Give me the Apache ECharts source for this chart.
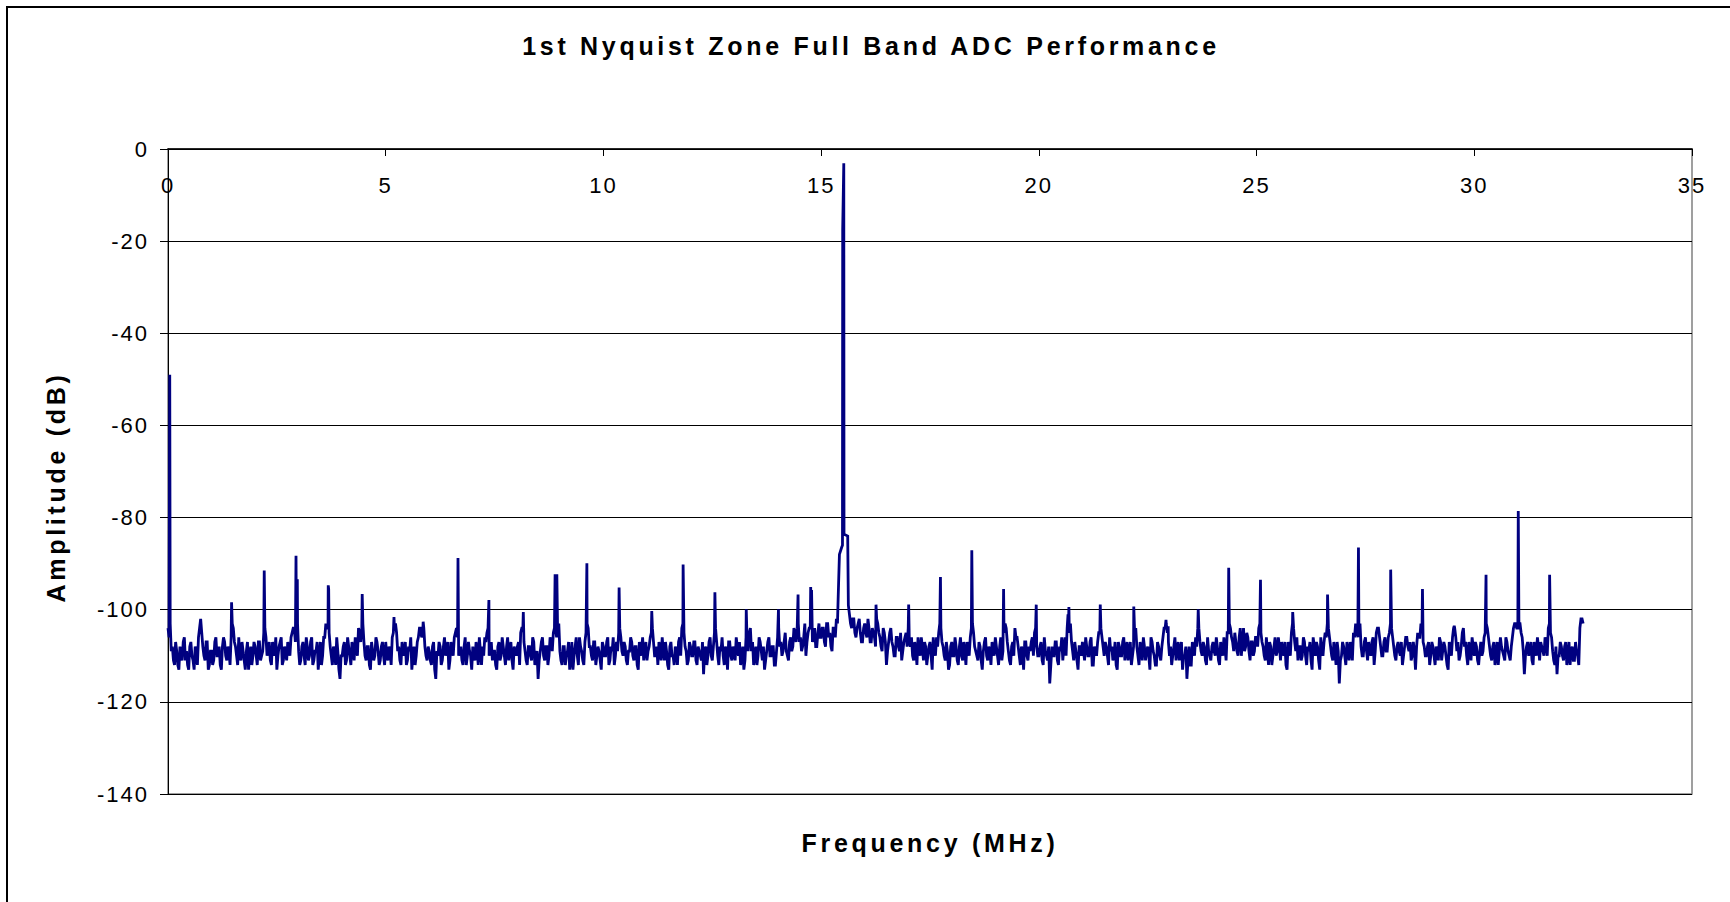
<!DOCTYPE html>
<html>
<head>
<meta charset="utf-8">
<title>1st Nyquist Zone Full Band ADC Performance</title>
<script src="https://cdn.jsdelivr.net/npm/echarts@6/dist/echarts.min.js"></script>
<style>
  html, body { margin: 0; padding: 0; background: #fff; }
  #chart { width: 1730px; height: 902px; }
  /* Excel-style spaced lettering */
  #chart svg text { letter-spacing: 2px; }
  #chart svg text[style*="bold"] { letter-spacing: 3.7px; }
</style>
</head>
<body>
<div id="chart"></div>
<script>
// noise floor, one row per MHz, bins every 0.05 MHz (null = covered by the carrier)
const binStep = 0.05;
const noiseRows = [
  [-104, -103, -108, -112, -109, -113, -110, -107, -111, -112, -108, -110, -113, -109, -106, -102, -108, -111, -107, -112],
  [-109, -111, -106, -110, -112, -108, -107, -111, -109, -106, -104, -108, -112, -110, -107, -111, -109, -113, -108, -110],
  [-108, -112, -107, -110, -105, -106, -109, -111, -107, -110, -113, -108, -106, -111, -109, -107, -110, -105, -104, -106],
  [-109, -111, -107, -112, -108, -110, -106, -111, -109, -113, -107, -110, -106, -104, -105, -110, -108, -112, -109, -115],
  [-110, -107, -111, -108, -112, -109, -106, -110, -105, -104, -107, -111, -108, -113, -109, -110, -107, -112, -108, -110],
  [-107, -111, -109, -106, -104, -105, -108, -112, -110, -107, -111, -109, -113, -108, -110, -106, -104, -105, -108, -111],
  [-109, -112, -107, -115, -110, -108, -111, -106, -109, -113, -107, -110, -105, -106, -109, -111, -108, -112, -107, -110],
  [-108, -111, -109, -106, -112, -110, -107, -104, -108, -111, -109, -113, -107, -110, -108, -112, -106, -109, -111, -108],
  [-110, -107, -105, -104, -109, -112, -108, -111, -107, -110, -115, -109, -106, -111, -108, -110, -107, -105, -104, -106],
  [-109, -112, -108, -110, -107, -111, -113, -108, -110, -106, -109, -112, -105, -104, -108, -111, -107, -110, -109, -113],
  [-108, -110, -106, -111, -109, -112, -107, -105, -106, -110, -108, -112, -109, -107, -111, -108, -113, -110, -106, -109],
  [-111, -108, -105, -107, -110, -112, -108, -106, -111, -109, -113, -107, -110, -108, -112, -106, -104, -105, -109, -111],
  [-108, -110, -107, -112, -109, -111, -114, -108, -110, -106, -111, -105, -107, -112, -109, -110, -108, -113, -107, -111],
  [-109, -106, -110, -112, -108, -111, -107, -105, -109, -112, -108, -110, -107, -111, -113, -109, -106, -110, -108, -112],
  [-106, -108, -110, -107, -109, -111, -106, -108, -105, -104, -107, -109, -106, -110, -105, -104, -107, -104, -108, -103],
  [-106, -104, -108, -103, -105, -109, -104, -102, null, null, null, null, null, -101, -104, -102, -106, -103, -105, -107],
  [-103, -106, -104, -107, -105, -108, -103, -106, -109, -105, -112, -107, -104, -108, -110, -106, -109, -111, -107, -105],
  [-104, -108, -110, -107, -112, -109, -106, -111, -108, -110, -107, -113, -109, -106, -105, -104, -108, -111, -109, -112],
  [-107, -110, -108, -112, -106, -111, -109, -107, -110, -104, -105, -109, -111, -108, -113, -107, -110, -108, -112, -109],
  [-106, -110, -108, -111, -105, -104, -109, -112, -107, -104, -106, -110, -108, -113, -107, -111, -109, -106, -105, -108],
  [-110, -107, -112, -109, -111, -116, -108, -110, -107, -112, -109, -111, -106, -104, -105, -107, -111, -109, -113, -108],
  [-107, -111, -108, -110, -106, -112, -109, -107, -105, -106, -110, -108, -112, -109, -111, -107, -113, -108, -110, -106],
  [-109, -111, -107, -110, -105, -108, -112, -109, -106, -111, -108, -113, -107, -110, -112, -108, -111, -106, -104, -105],
  [-110, -112, -108, -111, -107, -109, -113, -110, -115, -108, -112, -109, -106, -104, -107, -110, -108, -112, -109, -111],
  [-107, -110, -108, -112, -109, -106, -111, -105, -104, -107, -105, -109, -106, -110, -104, -108, -106, -111, -107, -109],
  [-106, -104, -105, -108, -111, -109, -107, -112, -108, -110, -106, -111, -109, -107, -113, -108, -105, -104, -109, -111],
  [-108, -110, -107, -112, -109, -111, -106, -110, -108, -113, -109, -107, -106, -104, -108, -111, -109, -107, -116, -110],
  [-108, -112, -109, -107, -111, -106, -104, -105, -108, -110, -106, -111, -109, -107, -112, -105, -104, -108, -110, -106],
  [-109, -105, -104, -108, -111, -107, -110, -112, -108, -106, -109, -111, -107, -113, -105, -106, -104, -108, -110, -107],
  [-110, -108, -112, -109, -106, -111, -107, -110, -113, -108, -106, -104, -109, -111, -108, -104, -107, -112, -109, -106],
  [-110, -108, -112, -107, -109, -105, -104, -108, -111, -107, -110, -112, -106, -109, -111, -107, -110, -108, -104, -103],
  [-104, -103, -106, -114, -108, -110, -107, -112, -109, -106, -111, -108, -110, -107, -104, -105, -109, -112, -114, -110],
  [-108, -111, -107, -110, -112, -108, -111, -109, -112, -102, -103]
];

// the in-between bins, offset by half a bin (r + 0.025 + j * 0.05)
const noiseRowsMid = [
  [-106, -109, -111, -107, -112, -108, -111, -106, -109, -113, -107, -111, -108, -112, -104, -105, -110, -107, -113, -109],
  [-112, -107, -110, -108, -113, -106, -110, -108, -112, -103, -107, -110, -106, -111, -109, -113, -107, -110, -112, -107],
  [-110, -107, -111, -109, -104, -110, -107, -112, -109, -106, -110, -107, -112, -108, -111, -109, -106, -104, -107, -103],
  [-112, -108, -110, -106, -111, -107, -112, -109, -107, -110, -112, -106, -103, -104, -108, -112, -109, -106, -113, -110],
  [-108, -112, -106, -110, -107, -111, -108, -104, -107, -103, -110, -108, -112, -107, -111, -106, -109, -111, -107, -112],
  [-110, -108, -112, -105, -103, -109, -111, -107, -109, -112, -108, -106, -110, -112, -107, -104, -106, -104, -110, -108],
  [-111, -108, -113, -109, -107, -112, -108, -110, -107, -111, -109, -106, -104, -110, -108, -112, -106, -110, -109, -113],
  [-110, -107, -112, -109, -108, -106, -105, -110, -107, -109, -112, -108, -111, -106, -110, -108, -111, -107, -113, -109],
  [-108, -112, -104, -107, -111, -108, -110, -106, -112, -109, -111, -107, -110, -108, -112, -106, -109, -104, -106, -103],
  [-111, -108, -112, -109, -113, -107, -110, -106, -112, -108, -111, -107, -103, -108, -110, -107, -112, -108, -111, -107],
  [-110, -107, -112, -108, -106, -110, -109, -104, -109, -107, -111, -109, -106, -110, -108, -112, -107, -109, -111, -107],
  [-109, -106, -104, -110, -108, -107, -111, -109, -107, -112, -108, -110, -112, -109, -107, -110, -103, -108, -112, -107],
  [-110, -107, -111, -108, -110, -107, -109, -112, -107, -110, -108, -104, -110, -108, -106, -112, -109, -107, -110, -108],
  [-111, -108, -107, -110, -113, -106, -109, -104, -107, -110, -112, -106, -109, -108, -111, -107, -110, -108, -112, -109],
  [-104, -107, -109, -105, -110, -107, -109, -104, -107, -103, -106, -108, -103, -107, -104, -103, -106, -108, -105, -106],
  [-104, -107, -103, -106, -108, -104, -106, -103, null, null, null, null, null, -103, -102, -105, -104, -102, -107, -104],
  [-105, -102, -107, -104, -106, -102, -105, -108, -104, -107, -109, -105, -107, -110, -106, -108, -105, -109, -106, -108],
  [-107, -106, -111, -109, -106, -110, -108, -107, -112, -108, -110, -106, -110, -108, -103, -107, -110, -107, -113, -108],
  [-110, -106, -111, -108, -110, -107, -112, -108, -106, -103, -108, -110, -107, -111, -109, -106, -111, -109, -107, -110],
  [-108, -112, -106, -109, -103, -107, -111, -108, -110, -106, -108, -112, -109, -107, -110, -108, -107, -110, -104, -110],
  [-108, -111, -106, -110, -108, -112, -110, -107, -111, -108, -106, -108, -110, -105, -103, -109, -107, -111, -108, -110],
  [-109, -106, -110, -107, -112, -108, -110, -105, -104, -108, -107, -110, -106, -108, -110, -112, -107, -110, -107, -111],
  [-107, -109, -112, -108, -104, -110, -107, -111, -108, -109, -110, -106, -109, -112, -107, -110, -108, -104, -103, -107],
  [-108, -110, -106, -109, -111, -107, -110, -108, -111, -112, -107, -110, -108, -104, -109, -107, -111, -106, -110, -108],
  [-109, -106, -111, -107, -110, -108, -105, -103, -106, -109, -107, -110, -104, -107, -109, -105, -109, -107, -110, -106],
  [-108, -103, -107, -110, -106, -112, -108, -110, -106, -109, -108, -107, -110, -112, -107, -110, -103, -107, -106, -108],
  [-111, -106, -110, -108, -107, -113, -108, -107, -111, -106, -110, -105, -103, -106, -110, -107, -112, -109, -111, -107],
  [-110, -107, -111, -109, -105, -103, -106, -103, -110, -107, -109, -107, -110, -106, -109, -104, -106, -110, -107, -109],
  [-106, -103, -106, -110, -108, -109, -107, -110, -106, -108, -107, -110, -109, -108, -106, -103, -107, -110, -108, -112],
  [-107, -110, -108, -111, -107, -109, -108, -112, -107, -110, -104, -106, -107, -110, -105, -108, -110, -107, -111, -108],
  [-107, -111, -109, -110, -106, -103, -106, -110, -108, -112, -107, -109, -108, -110, -106, -109, -111, -106, -103, -104],
  [-103, -105, -109, -110, -107, -109, -111, -107, -110, -108, -107, -109, -106, -110, -103, -106, -111, -108, -110, -107],
  [-110, -108, -112, -107, -109, -111, -107, -110, -104, -102]
];

// spurs (MHz, dB)
const spurFreq = [0.04, 1.46, 2.21, 2.94, 2.97, 3.68, 3.69, 4.46, 5.19, 5.86, 6.66, 7.37, 8.16, 8.89, 8.93,
  9.62, 10.36, 11.11, 11.83, 12.56, 13.28, 14.02, 14.47, 14.76, 14.78, 16.26, 17.01, 17.74, 18.46, 19.19,
  19.94, 20.67, 20.69, 21.41, 22.18, 22.92, 22.97, 23.66, 24.36, 25.09, 25.83, 26.63, 27.34, 28.08, 28.81,
  29.54, 30.27, 31.01, 31.73];
const spurAmp = [-49, -98.4, -91.5, -88.3, -93.4, -94.7, -95.5, -96.6, -101.6, -102.6, -88.8, -97.9, -100.5, -92.3, -92.3,
  -89.9, -95.2, -100.3, -90.2, -96.2, -99.9, -99.9, -96.7, -95.1, -95.7, -98.9, -98.9, -92.9, -87.1, -95.5,
  -98.9, -101, -99.4, -98.9, -99.3, -102.2, -103.6, -99.9, -90.9, -93.5, -100.5, -96.7, -86.5, -91.3, -95.5,
  -103.5, -92.4, -78.6, -92.4];

// fundamental tone
const carrierFreq = [15.39, 15.42, 15.47, 15.49, 15.495, 15.52, 15.525, 15.61, 15.625];
const carrierAmp = [-97.8, -88, -86.5, -86, -17.4, -3.1, -83.6, -84, -99];

const fontFamily = '"Liberation Sans", Arial, Helvetica, sans-serif';

// build the trace
const points = [];
function addRows(rows, offset) {
    rows.forEach(function (row, r) {
        row.forEach(function (v, j) {
            if (v !== null) points.push([+(r + offset + j * binStep).toFixed(3), v]);
        });
    });
}
addRows(noiseRows, 0);
addRows(noiseRowsMid, binStep / 2);
spurFreq.forEach(function (f, i) { points.push([f, spurAmp[i]]); });
carrierFreq.forEach(function (f, i) { points.push([f, carrierAmp[i]]); });
points.sort(function (a, b) { return a[0] - b[0]; });

const myChart = echarts.init(document.getElementById('chart'), null, { renderer: 'svg' });

const option = {
    backgroundColor: '#fff',
    animation: false,
    grid: {
        left: 168,
        right: 38,
        top: 149,
        bottom: 108,
        show: true,
        borderColor: '#808080',
        borderWidth: 1.5,
        outerBoundsMode: 'none'
    },
    graphic: [
        {
            type: 'rect',
            silent: true,
            z: -10,
            shape: { x: 7, y: 7, width: 1800, height: 1000 },
            style: { fill: 'none', stroke: '#000', lineWidth: 2 }
        },
        {
            type: 'text',
            silent: true,
            x: 871,
            y: 46,
            style: {
                text: '1st Nyquist Zone Full Band ADC Performance',
                font: 'bold 25px ' + fontFamily,
                fill: '#000',
                align: 'center',
                verticalAlign: 'middle'
            }
        },
        {
            type: 'text',
            silent: true,
            x: 930,
            y: 843,
            style: {
                text: 'Frequency (MHz)',
                font: 'bold 25px ' + fontFamily,
                fill: '#000',
                align: 'center',
                verticalAlign: 'middle'
            }
        },
        {
            type: 'text',
            silent: true,
            x: 56,
            y: 487,
            rotation: Math.PI / 2,
            style: {
                text: 'Amplitude (dB)',
                font: 'bold 25px ' + fontFamily,
                fill: '#000',
                align: 'center',
                verticalAlign: 'middle'
            }
        }
    ],
    xAxis: {
        type: 'value',
        position: 'top',
        min: 0,
        max: 35,
        interval: 5,
        axisLine: { show: true, onZero: false, lineStyle: { color: '#000', width: 1.5 } },
        axisTick: { show: true, inside: true, length: 7, lineStyle: { color: '#000' } },
        axisLabel: { inside: true, margin: 25, color: '#000', fontSize: 22, fontFamily: fontFamily },
        splitLine: { show: false }
    },
    yAxis: {
        type: 'value',
        min: -140,
        max: 0,
        interval: 20,
        axisLine: { show: true, onZero: false, lineStyle: { color: '#000', width: 1 } },
        axisTick: { show: true, length: 8, lineStyle: { color: '#000' } },
        axisLabel: { margin: 19, color: '#000', fontSize: 22, fontFamily: fontFamily },
        splitLine: { show: true, lineStyle: { color: '#000', width: 1 } }
    },
    series: [
        {
            name: 'Amplitude',
            type: 'line',
            data: points,
            showSymbol: false,
            symbol: 'none',
            silent: true,
            sampling: null,
            lineStyle: { color: '#000080', width: 2.8, join: 'miter', miterLimit: 2 },
            itemStyle: { color: '#000080' }
        }
    ]
};

myChart.setOption(option);
window.addEventListener('resize', function () {
    myChart.resize();
});
</script>
</body>
</html>
